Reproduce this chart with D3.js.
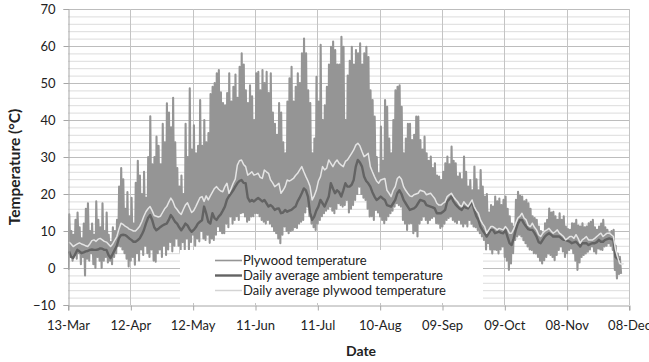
<!DOCTYPE html>
<html>
<head>
<meta charset="utf-8">
<script src="https://cdn.jsdelivr.net/npm/d3@7/dist/d3.min.js"></script>
<style>
  body { margin: 0; background: #fff; }
  svg { display: block; }
  text { font-family: Lato, "Open Sans", sans-serif; fill: #222; }
</style>
</head>
<body>
<svg id="chart" width="649" height="362"></svg>
<script>
// Day offsets (days after 13 March) of the date ticks and their labels
const tickDays = [0, 30, 60, 90, 120, 150, 180, 210, 240, 270];
const tickLabels = ["13-Mar", "12-Apr", "12-May", "11-Jun", "11-Jul", "10-Aug", "09-Sep", "09-Oct", "08-Nov", "08-Dec"];
const yTicks = [-10, 0, 10, 20, 30, 40, 50, 60, 70];

const seriesNames = ["Plywood temperature", "Daily average ambient temperature", "Daily average plywood temperature"];

// Plywood surface temperature: daily peak and daily low (°C), one value per day from 13-Mar
const plywoodDailyMax = [
  14.5, 10, 9, 13, 15, 11, 8, 12, 16, 17.5,
  10, 12, 9, 18, 13, 11, 17.5, 10, 15, 9,
  7, 11, 10, 13, 22, 27, 24, 16, 20.5, 14,
  19, 12, 23, 29, 25, 20, 26, 19, 30, 41,
  28, 30, 35.5, 33, 28, 39, 34, 44.5, 42, 38,
  46, 34, 27, 22, 25, 20, 39, 30, 48.6, 32,
  38.6, 31, 33, 45.4, 33, 40, 34, 36.5, 47, 49,
  50, 52.6, 53.5, 47.5, 44.6, 44, 47.3, 52.6, 45, 49,
  52.3, 46, 54.4, 58, 55, 48, 44.6, 49.4, 46.4, 40,
  52.6, 53, 48, 53.5, 50, 53, 47.3, 52.6, 42, 39,
  36, 44.6, 42, 34, 31, 45, 51.3, 54.4, 45, 49,
  52.6, 50, 58, 62, 58, 48, 44.6, 31, 35, 51.7,
  45, 60.3, 40, 44, 49, 55, 59.8, 61.2, 58.9, 55,
  55, 62.5, 59.8, 40, 52, 56, 59.8, 55, 58.9, 58,
  60.7, 55, 58, 59.8, 57, 48, 45.4, 40.9, 30, 25.6,
  38.2, 29, 45.4, 43.6, 35, 31, 40, 48, 49, 49.4,
  43.6, 31, 35, 39, 39, 34.6, 36, 40.9, 40.9, 34.6,
  32, 35.5, 31, 29, 30.1, 27, 28.3, 25, 24.7, 23.8,
  26, 28.3, 30.1, 28, 32.8, 29, 28.3, 24.7, 25.6, 24,
  30.1, 26, 22, 23.8, 21, 27.4, 24, 21, 26.5, 22,
  19.3, 20, 15, 17, 16.6, 19.3, 18, 18.8, 17, 18.4,
  19.3, 16, 14, 12, 11.2, 18.4, 20.6, 19.5, 19.3, 18,
  18.4, 17.5, 16, 14, 13.5, 13, 11.2, 10, 9.4, 12.1,
  13, 16.1, 15, 15.2, 14, 13, 14.8, 13, 14, 11.2,
  10.5, 10.3, 12.1, 12, 13, 11.5, 11.2, 12.1, 11, 11.2,
  12.1, 12.5, 13, 11, 10.3, 11.2, 12, 13, 11, 10.3,
  9.4, 10, 10.3, 6, 3.9, 3
];
const plywoodDailyMin = [
  -0.5, 3, 2, 3.5, 2.5, 4, 1, 3, -2, 2.5,
  2, 4, 1, 0, 3, 2, 0, 2, 3, 1.5,
  2, 1, 3, 4, 6, 5.8, 5, 4, 2.5, 0.4,
  2, 3, 0.9, 4, 2, 5, 3.5, 6, 4, 3,
  5, 2, 1.7, 4, 5, 3, 6, 3.5, 5, 7,
  4.5, 6, 8, 6, 4.2, 7, 5, 8, 5, 7,
  9, 6, 8, 7.2, 10, 8, 7.6, 9, 6.8, 8,
  7.6, 9, 11.2, 10, 9.4, 9.4, 12, 11, 13.9, 12,
  13, 14, 13, 14.8, 15, 13.9, 12.5, 13, 13.9, 14,
  14.8, 14.8, 14, 13, 12.5, 12, 13, 12, 11.2, 10,
  9.4, 8, 6.7, 9, 11.2, 10, 9.4, 10, 10.3, 11,
  10.8, 12, 12.5, 13, 15, 16.6, 14, 12, 11, 10.3,
  12, 13, 14, 14.8, 15.5, 16, 16.6, 15.5, 14.8, 16,
  17.5, 17, 16.6, 17, 18.4, 15, 16, 17, 18.4, 20,
  22, 20, 19, 18.4, 16, 13.9, 14, 13, 15.7, 15,
  13.9, 13, 12.1, 13, 14, 14.8, 15.5, 16.6, 17.5, 17,
  16.6, 13, 12, 10.3, 12, 12.1, 9.4, 10, 8.5, 12,
  13, 13.9, 13, 12.1, 13, 13.5, 13.9, 12.1, 12, 10.8,
  11.2, 12, 13, 13.5, 13.9, 13, 12.5, 12.1, 13, 12,
  11.2, 12, 11.2, 13, 12, 11.2, 11, 10.3, 9.4, 8.5,
  7.6, 5, 6.7, 5, 3.9, 5, 4.9, 3.9, 5, 5.8,
  3, 2, -0.5, 1.2, 4, 7.6, 8.5, 9, 8.5, 7.5,
  6.7, 5.8, 5, 4.9, 4, 3.9, 3, 2, 1.2, 2.1,
  3, 3.9, 3.5, 3, 2.1, 3.5, 4.9, 5.8, 4.5, 3,
  4, 4.9, 5.3, 4, 2, -0.5, 1.5, 3, 3.5, 3.9,
  4.4, 5, 5.8, 4.5, 3.9, 5.3, 5, 4.9, 5.8, 6,
  6.7, 6, 4.9, -0.5, -2.8, -1.6
];

// Daily mean of the ambient air temperature (°C)
const ambientDailyAvg = [
  4.5, 3.0, 2.7, 3.8, 4.9, 4.5, 4.0, 4.2, 4.5, 4.6,
  4.9, 5.0, 4.9, 4.9, 5.0, 5.3, 5.2, 4.9, 4.9, 3.5,
  2.7, 3.8, 4.9, 6.0, 8.0, 8.9, 9.0, 8.9, 8.5, 8.0,
  7.6, 7.1, 7.1, 7.5, 8.0, 9.0, 10.2, 12.0, 13.5, 14.3,
  13.0, 11.0, 10.2, 10.6, 11.1, 11.5, 11.8, 12.0, 13.0, 14.3,
  13.5, 12.5, 12.0, 11.0, 10.2, 11.0, 12.0, 11.5, 10.5, 9.8,
  10.3, 11.0, 12.0, 12.5, 12.9, 16.6, 14.8, 12.5, 12.0, 14.8,
  13.5, 13.0, 13.9, 14.5, 15.5, 16.6, 18.5, 19.4, 20.2, 21.0,
  22.0, 22.9, 23.5, 23.8, 23.0, 22.9, 19.0, 18.0, 18.4, 18.0,
  18.5, 18.9, 18.5, 18.0, 18.4, 17.5, 16.6, 17.0, 16.5, 15.7,
  16.0, 16.1, 14.8, 15.0, 15.7, 15.2, 15.5, 15.7, 16.2, 16.6,
  18.0, 19.0, 20.2, 21.5, 21.0, 19.3, 15.0, 13.0, 13.9, 15.5,
  16.6, 18.4, 17.5, 16.6, 18.0, 19.3, 22.9, 21.5, 20.2, 21.0,
  20.5, 19.3, 21.0, 22.9, 22.0, 22.0, 22.5, 23.8, 27.4, 29.2,
  28.5, 27.4, 24.7, 23.5, 22.9, 22.0, 20.5, 19.3, 18.4, 18.8,
  19.3, 18.8, 18.4, 17.0, 16.8, 16.6, 17.5, 18.4, 20.2, 21.0,
  20.0, 18.4, 17.5, 16.6, 15.7, 15.9, 16.1, 16.6, 17.5, 18.4,
  18.2, 18.0, 17.0, 16.8, 16.6, 16.4, 16.1, 14.8, 14.8, 14.8,
  15.2, 15.7, 18.0, 18.6, 19.3, 18.0, 17.2, 16.6, 16.0, 15.7,
  16.6, 16.3, 16.1, 17.0, 18.0, 15.7, 14.0, 13.0, 11.2, 10.2,
  9.4, 8.5, 9.4, 10.3, 10.3, 9.4, 9.6, 9.8, 9.5, 9.4,
  10.3, 8.5, 6.7, 6.2, 8.0, 10.3, 12.0, 13.0, 13.0, 12.0,
  11.2, 10.5, 10.3, 10.3, 9.5, 8.5, 7.0, 6.7, 7.6, 8.5,
  9.0, 9.4, 9.0, 8.5, 8.5, 8.5, 8.5, 8.0, 7.6, 7.6,
  7.3, 7.1, 6.7, 6.9, 7.1, 6.5, 5.8, 6.7, 6.7, 6.7,
  6.2, 6.5, 6.7, 6.7, 7.0, 7.6, 7.1, 7.1, 7.6, 7.8,
  8.0, 7.8, 7.6, 3.0, 2.5, 2.1
];

// Daily mean of the plywood temperature (°C)
const plywoodDailyAvg = [
  7.0, 6.5, 5.8, 6.2, 6.5, 6.8, 6.5, 6.3, 6.0, 5.8,
  6.5, 7.4, 7.6, 7.2, 7.8, 8.0, 7.6, 7.2, 7.0, 6.4,
  5.8, 6.5, 7.5, 8.5, 10.5, 12.1, 11.8, 11.3, 11.0, 10.5,
  10.3, 10.0, 10.0, 10.6, 11.3, 12.5, 14.0, 15.2, 16.0, 16.6,
  15.5, 14.2, 14.0, 13.8, 14.0, 15.0, 16.0, 16.6, 17.8, 18.9,
  18.0, 16.5, 15.8, 15.0, 14.5, 15.8, 17.0, 17.6, 16.3, 15.0,
  15.5, 16.6, 17.8, 19.0, 19.3, 18.0, 19.5, 18.4, 19.5, 20.5,
  21.5, 22.0, 21.3, 20.8, 20.6, 22.0, 22.9, 20.2, 21.5, 22.9,
  24.0, 27.8, 29.0, 29.2, 28.0, 27.4, 25.1, 25.5, 26.0, 25.1,
  25.3, 25.6, 24.5, 24.2, 26.5, 26.0, 25.6, 23.8, 23.0, 22.0,
  22.4, 22.9, 20.2, 21.0, 22.0, 23.8, 23.5, 23.8, 24.2, 25.0,
  25.6, 26.5, 27.4, 26.0, 24.7, 23.5, 22.0, 18.4, 19.5, 21.0,
  23.5, 24.7, 27.4, 26.5, 27.0, 29.2, 28.3, 27.4, 28.5, 29.2,
  28.3, 27.8, 27.4, 28.8, 29.2, 30.1, 31.0, 31.9, 33.2, 33.7,
  33.0, 31.5, 30.1, 30.5, 31.0, 27.4, 26.0, 24.7, 23.5, 22.9,
  23.8, 24.0, 24.2, 21.0, 20.2, 19.3, 21.0, 22.0, 24.2, 24.7,
  24.0, 22.0, 21.0, 20.2, 19.5, 19.3, 19.8, 20.0, 20.2, 21.0,
  20.8, 20.6, 19.8, 20.0, 20.2, 19.5, 18.8, 17.5, 17.0, 17.0,
  17.5, 17.9, 19.3, 19.8, 20.2, 19.3, 18.5, 17.9, 17.0, 16.6,
  17.9, 17.2, 16.6, 17.5, 18.4, 16.6, 15.5, 14.8, 13.0, 12.0,
  11.2, 9.4, 10.3, 11.2, 11.2, 10.8, 10.3, 10.7, 10.5, 10.3,
  11.2, 10.5, 9.4, 9.4, 10.5, 12.1, 13.5, 14.0, 14.8, 13.5,
  13.0, 11.5, 11.2, 12.1, 11.0, 10.3, 9.0, 8.5, 9.4, 10.0,
  10.3, 10.7, 10.0, 9.4, 9.8, 10.3, 9.4, 9.0, 8.5, 7.6,
  8.0, 8.5, 8.5, 8.0, 9.0, 8.0, 6.7, 7.6, 8.0, 8.5,
  7.6, 7.6, 7.6, 8.0, 8.5, 9.0, 9.4, 8.5, 9.0, 9.4,
  9.4, 9.0, 8.5, 5.0, 3.0, 1.2, 1.0, 1.2
];

const svg = d3.select("#chart");
const plot = { left: 68, right: 629, top: 9, bottom: 305 };

const x = d3.scaleLinear().domain([0, 270]).range([plot.left, plot.right]);
const y = d3.scaleLinear().domain([-10, 70]).range([plot.bottom, plot.top]);

svg.append("defs").append("clipPath").attr("id", "plot-clip")
  .append("rect")
  .attr("x", plot.left).attr("y", plot.top)
  .attr("width", plot.right - plot.left).attr("height", plot.bottom - plot.top);

// Minor horizontal gridlines every 2 °C, major every 10 °C
const grid = svg.append("g");
grid.selectAll("line.minor")
  .data(d3.range(-10, 70.1, 2).filter(v => v % 10 !== 0))
  .join("line").attr("class", "minor")
  .attr("x1", plot.left).attr("x2", plot.right)
  .attr("y1", d => y(d) + 0.5).attr("y2", d => y(d) + 0.5)
  .attr("stroke", "#dcdcdc").attr("stroke-width", 1);
grid.selectAll("line.major")
  .data(yTicks.filter(v => v > -10))
  .join("line").attr("class", "major")
  .attr("x1", plot.left).attr("x2", plot.right)
  .attr("y1", d => y(d) + 0.5).attr("y2", d => y(d) + 0.5)
  .attr("stroke", "#bdbdbd").attr("stroke-width", 1);
grid.selectAll("line.vert")
  .data(tickDays.slice(1))
  .join("line").attr("class", "vert")
  .attr("x1", d => Math.round(x(d)) + 0.5).attr("x2", d => Math.round(x(d)) + 0.5)
  .attr("y1", plot.top).attr("y2", plot.bottom)
  .attr("stroke", "#c4c4c4").attr("stroke-width", 1);

const dataLayer = svg.append("g").attr("clip-path", "url(#plot-clip)");

// Plywood temperature: the daily cycle runs from the night low to the afternoon peak
const cycle = [];
plywoodDailyMax.forEach((hi, i) => {
  cycle.push({ t: i + 0.2, v: plywoodDailyMin[i] });
  cycle.push({ t: i + 0.6, v: hi });
});
cycle.push({ t: plywoodDailyMax.length + 0.2, v: plywoodDailyMin[plywoodDailyMin.length - 1] });

const line = d3.line().x(p => x(p.t)).y(p => y(p.v));
dataLayer.append("path")
  .datum(cycle)
  .attr("d", line)
  .attr("fill", "none")
  .attr("stroke", "#959595")
  .attr("stroke-width", 2.1)
  .attr("stroke-linejoin", "round");

const avgLine = d3.line().x((v, i) => x(i + 0.5)).y(v => y(v));
dataLayer.append("path")
  .datum(ambientDailyAvg)
  .attr("d", avgLine)
  .attr("fill", "none")
  .attr("stroke", "#636363")
  .attr("stroke-width", 2.4)
  .attr("stroke-linejoin", "round");
dataLayer.append("path")
  .datum(plywoodDailyAvg)
  .attr("d", avgLine)
  .attr("fill", "none")
  .attr("stroke", "#e4e4e4")
  .attr("stroke-width", 1.5)
  .attr("stroke-linejoin", "round");

// Legend on a white panel inside the plot area
const legend = svg.append("g");
legend.append("rect")
  .attr("x", 180).attr("y", 250).attr("width", 303).attr("height", 53)
  .attr("fill", "#fff");
const legendStyles = [
  { stroke: "#959595", width: 1.6 },
  { stroke: "#636363", width: 2.4 },
  { stroke: "#d4d4d4", width: 1.5 }
];
seriesNames.forEach((name, i) => {
  const ly = 260.5 + i * 15;
  legend.append("line")
    .attr("x1", 215).attr("x2", 242).attr("y1", ly).attr("y2", ly)
    .attr("stroke", legendStyles[i].stroke).attr("stroke-width", legendStyles[i].width);
  legend.append("text")
    .attr("x", 243).attr("y", ly).attr("dy", "0.35em")
    .attr("font-size", 13)
    .text(name);
});

// Axes
const axisColor = "#a6a6a6";
const yAxis = svg.append("g").attr("transform", `translate(${plot.left + 0.5},0)`)
  .call(d3.axisLeft(y).tickValues(yTicks).tickSize(5).tickPadding(8).tickFormat(d3.format("d")));
const xAxis = svg.append("g").attr("transform", `translate(0,${plot.bottom + 0.5})`)
  .call(d3.axisBottom(x).tickValues(tickDays).tickSize(5).tickPadding(10)
    .tickFormat((d, i) => tickLabels[i]));
[yAxis, xAxis].forEach(a => {
  a.select(".domain").attr("stroke", axisColor);
  a.selectAll(".tick line").attr("stroke", axisColor);
  a.selectAll(".tick text").attr("font-size", 13).attr("font-family", "Lato, sans-serif").attr("fill", "#222");
});
xAxis.selectAll(".tick line").attr("transform", "translate(0.5,0)");

// Axis titles
svg.append("text")
  .attr("transform", "translate(15,167) rotate(-90)")
  .attr("text-anchor", "middle")
  .attr("dy", "0.35em")
  .attr("font-size", 15.5).attr("font-weight", "bold")
  .text("Temperature (°C)");
svg.append("text")
  .attr("x", 361).attr("y", 356)
  .attr("text-anchor", "middle")
  .attr("font-size", 14).attr("font-weight", "bold")
  .text("Date");
</script>
</body>
</html>
